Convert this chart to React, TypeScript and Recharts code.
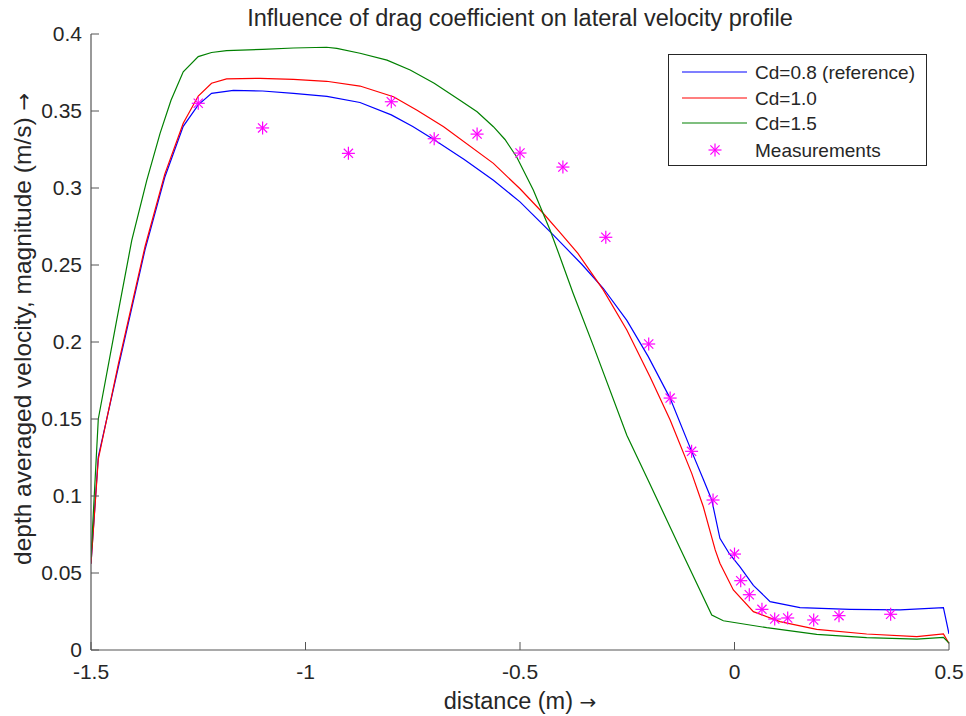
import React from 'react';
import { ComposedChart, Line, Scatter, XAxis, YAxis, Legend } from 'recharts';

const xTicks = [-1.5, -1, -0.5, 0, 0.5];
const yTicks = [0, 0.05, 0.1, 0.15, 0.2, 0.25, 0.3, 0.35, 0.4];

const cd08 = [
  { x: -1.5, y: 0.056 }, { x: -1.483, y: 0.1255 }, { x: -1.436, y: 0.184 }, { x: -1.374, y: 0.26 },
  { x: -1.328, y: 0.307 }, { x: -1.285, y: 0.34 }, { x: -1.25, y: 0.354 }, { x: -1.219, y: 0.3615 },
  { x: -1.168, y: 0.3634 }, { x: -1.1, y: 0.363 }, { x: -1.028, y: 0.3615 }, { x: -0.95, y: 0.3595 },
  { x: -0.873, y: 0.3555 }, { x: -0.8, y: 0.3475 }, { x: -0.75, y: 0.34 }, { x: -0.702, y: 0.3316 },
  { x: -0.63, y: 0.3185 }, { x: -0.562, y: 0.305 }, { x: -0.5, y: 0.291 }, { x: -0.426, y: 0.2705 },
  { x: -0.356, y: 0.2505 }, { x: -0.306, y: 0.2349 }, { x: -0.251, y: 0.214 }, { x: -0.201, y: 0.1905 },
  { x: -0.15, y: 0.1634 }, { x: -0.0997, y: 0.1288 }, { x: -0.073, y: 0.111 }, { x: -0.053, y: 0.0974 },
  { x: -0.034, y: 0.0725 }, { x: -0.012, y: 0.0625 }, { x: 0.0128, y: 0.054 }, { x: 0.044, y: 0.042 },
  { x: 0.083, y: 0.0314 }, { x: 0.1527, y: 0.0275 }, { x: 0.269, y: 0.0264 }, { x: 0.386, y: 0.026 },
  { x: 0.487, y: 0.0275 }, { x: 0.5, y: 0.0104 },
];

const cd10 = [
  { x: -1.5, y: 0.056 }, { x: -1.483, y: 0.124 }, { x: -1.436, y: 0.186 }, { x: -1.374, y: 0.262 },
  { x: -1.328, y: 0.309 }, { x: -1.285, y: 0.342 }, { x: -1.25, y: 0.3597 }, { x: -1.219, y: 0.368 },
  { x: -1.184, y: 0.3708 }, { x: -1.106, y: 0.3712 }, { x: -1.028, y: 0.3705 }, { x: -0.951, y: 0.3693 },
  { x: -0.873, y: 0.3662 }, { x: -0.795, y: 0.3593 }, { x: -0.74, y: 0.3505 }, { x: -0.678, y: 0.3398 },
  { x: -0.562, y: 0.316 }, { x: -0.5, y: 0.2995 }, { x: -0.446, y: 0.2836 }, { x: -0.407, y: 0.2712 },
  { x: -0.365, y: 0.2575 }, { x: -0.306, y: 0.2338 }, { x: -0.251, y: 0.2078 }, { x: -0.197, y: 0.1775 },
  { x: -0.15, y: 0.1494 }, { x: -0.0997, y: 0.1147 }, { x: -0.0727, y: 0.093 }, { x: -0.045, y: 0.065 },
  { x: -0.034, y: 0.0563 }, { x: -0.0027, y: 0.039 }, { x: 0.044, y: 0.0249 }, { x: 0.106, y: 0.0184 },
  { x: 0.1916, y: 0.0134 }, { x: 0.308, y: 0.0104 }, { x: 0.425, y: 0.0087 }, { x: 0.487, y: 0.0104 },
  { x: 0.5, y: 0.0043 },
];

const cd15 = [
  { x: -1.5, y: 0.06 }, { x: -1.483, y: 0.15 }, { x: -1.44, y: 0.2143 }, { x: -1.405, y: 0.266 },
  { x: -1.37, y: 0.305 }, { x: -1.339, y: 0.3355 }, { x: -1.3135, y: 0.357 }, { x: -1.285, y: 0.3755 },
  { x: -1.25, y: 0.3853 }, { x: -1.219, y: 0.388 }, { x: -1.184, y: 0.3892 }, { x: -1.1, y: 0.39 },
  { x: -1.028, y: 0.3909 }, { x: -0.951, y: 0.3914 }, { x: -0.927, y: 0.3907 }, { x: -0.873, y: 0.3875 },
  { x: -0.81, y: 0.383 }, { x: -0.756, y: 0.3766 }, { x: -0.7, y: 0.368 }, { x: -0.64, y: 0.357 },
  { x: -0.6, y: 0.3495 }, { x: -0.562, y: 0.3398 }, { x: -0.535, y: 0.3315 }, { x: -0.508, y: 0.3203 },
  { x: -0.469, y: 0.2987 }, { x: -0.43, y: 0.2727 }, { x: -0.407, y: 0.2554 }, { x: -0.376, y: 0.2315 },
  { x: -0.329, y: 0.1975 }, { x: -0.251, y: 0.1395 }, { x: -0.201, y: 0.11 }, { x: -0.125, y: 0.065 },
  { x: -0.053, y: 0.0227 }, { x: -0.026, y: 0.019 }, { x: 0.075, y: 0.0145 }, { x: 0.1916, y: 0.0102 },
  { x: 0.308, y: 0.008 }, { x: 0.425, y: 0.0071 }, { x: 0.487, y: 0.0082 }, { x: 0.5, y: 0.0045 },
];

const measurements = [
  { x: -1.25, y: 0.355 }, { x: -1.1, y: 0.339 }, { x: -0.9, y: 0.3225 }, { x: -0.8, y: 0.356 },
  { x: -0.7, y: 0.332 }, { x: -0.6, y: 0.335 }, { x: -0.5, y: 0.3227 }, { x: -0.4, y: 0.3136 },
  { x: -0.3, y: 0.268 }, { x: -0.2, y: 0.1987 }, { x: -0.15, y: 0.1636 }, { x: -0.1, y: 0.129 },
  { x: -0.05, y: 0.0974 }, { x: 0, y: 0.0623 }, { x: 0.0145, y: 0.045 }, { x: 0.0345, y: 0.0359 },
  { x: 0.064, y: 0.0264 }, { x: 0.0937, y: 0.0201 }, { x: 0.124, y: 0.0208 }, { x: 0.1846, y: 0.0195 },
  { x: 0.2436, y: 0.0223 }, { x: 0.364, y: 0.0232 },
];

const seriesNames = ['Cd=0.8 (reference)', 'Cd=1.0', 'Cd=1.5', 'Measurements'];
const seriesColors = ['#0000ff', '#ff0000', '#008000', '#ff00ff'];

const FONT = '"Liberation Sans", Arial, Helvetica, sans-serif';
const ARROW_FONT = '"DejaVu Sans", sans-serif';
const TEXT = '#262626';

const Asterisk = (props: any) => {
  const { cx, cy } = props;
  if (cx == null || cy == null) return null;
  const r = 6.5;
  const d = 4.6;
  return (
    <g stroke="#ff00ff" strokeWidth={1.2}>
      <line x1={cx - r} y1={cy} x2={cx + r} y2={cy} />
      <line x1={cx} y1={cy - r} x2={cx} y2={cy + r} />
      <line x1={cx - d} y1={cy - d} x2={cx + d} y2={cy + d} />
      <line x1={cx - d} y1={cy + d} x2={cx + d} y2={cy - d} />
    </g>
  );
};

const renderLegend = () => {
  const rows = [72, 98, 123, 150];
  return (
    <svg width={259} height={112} style={{ display: 'block' }}>
      <rect x={0.5} y={0.5} width={258} height={111} fill="#fff" stroke="#262626" strokeWidth={1} />
      {seriesNames.map((name, i) => {
        const y = rows[i] - 54;
        return (
          <g key={name}>
            {i < 3 ? (
              <line x1={14} y1={y} x2={79} y2={y} stroke={seriesColors[i]} strokeWidth={1.2} />
            ) : (
              <Asterisk cx={47} cy={y} />
            )}
            <text x={87} y={y + 7} fontSize={19} fill={TEXT} fontFamily={FONT}>{name}</text>
          </g>
        );
      })}
    </svg>
  );
};

export default function App() {
  const axisLine = { stroke: '#555', strokeWidth: 1.2 };
  return (
    <div style={{ position: 'absolute', left: 0, top: 0, width: 966, height: 716, background: '#fff', fontFamily: FONT }}>
      <ComposedChart width={966} height={716} margin={{ top: 34, right: 17, bottom: 26, left: 31 }}>
        <XAxis
          dataKey="x"
          type="number"
          domain={[-1.5, 0.5]}
          ticks={xTicks}
          allowDataOverflow
          height={40}
          axisLine={axisLine}
          tickLine={{ stroke: '#555', strokeWidth: 1 }}
          tickSize={-8}
          tickMargin={22}
          tick={{ fontSize: 21, fill: TEXT, fontFamily: FONT }}
          tickFormatter={(v: number) => String(v)}
        />
        <YAxis
          dataKey="y"
          type="number"
          domain={[0, 0.4]}
          ticks={yTicks}
          allowDataOverflow
          width={60}
          axisLine={axisLine}
          tickLine={{ stroke: '#555', strokeWidth: 1 }}
          tickSize={-8}
          tickMargin={17}
          tick={{ fontSize: 21, fill: TEXT, fontFamily: FONT }}
          tickFormatter={(v: number) => String(v)}
        />
        <Line data={cd08} dataKey="y" name={seriesNames[0]} stroke={seriesColors[0]} strokeWidth={1.2} dot={false} type="linear" isAnimationActive={false} />
        <Line data={cd10} dataKey="y" name={seriesNames[1]} stroke={seriesColors[1]} strokeWidth={1.2} dot={false} type="linear" isAnimationActive={false} />
        <Line data={cd15} dataKey="y" name={seriesNames[2]} stroke={seriesColors[2]} strokeWidth={1.2} dot={false} type="linear" isAnimationActive={false} />
        <Scatter data={measurements} dataKey="y" name={seriesNames[3]} fill={seriesColors[3]} shape={Asterisk} isAnimationActive={false} />
        <Legend
          content={renderLegend}
          layout="horizontal"
          verticalAlign="middle"
          align="center"
          wrapperStyle={{ position: 'absolute', left: 668, top: 54, width: 259, height: 112 }}
        />
      </ComposedChart>
      <svg width={966} height={716} style={{ position: 'absolute', left: 0, top: 0, pointerEvents: 'none' }}>
        <text x={520} y={26} textAnchor="middle" fontSize={23.5} fill={TEXT} fontFamily={FONT}>
          Influence of drag coefficient on lateral velocity profile
        </text>
        <text x={520} y={709} textAnchor="middle" fontSize={23.5} fill={TEXT} fontFamily={FONT}>
          distance (m) <tspan fontFamily={ARROW_FONT} fontSize={20}>→</tspan>
        </text>
        <text x={31} y={329} textAnchor="middle" fontSize={24.5} fill={TEXT} fontFamily={FONT} transform="rotate(-90 31 329)">
          depth averaged velocity, magnitude (m/s) <tspan fontFamily={ARROW_FONT} fontSize={21}>→</tspan>
        </text>
      </svg>
    </div>
  );
}
